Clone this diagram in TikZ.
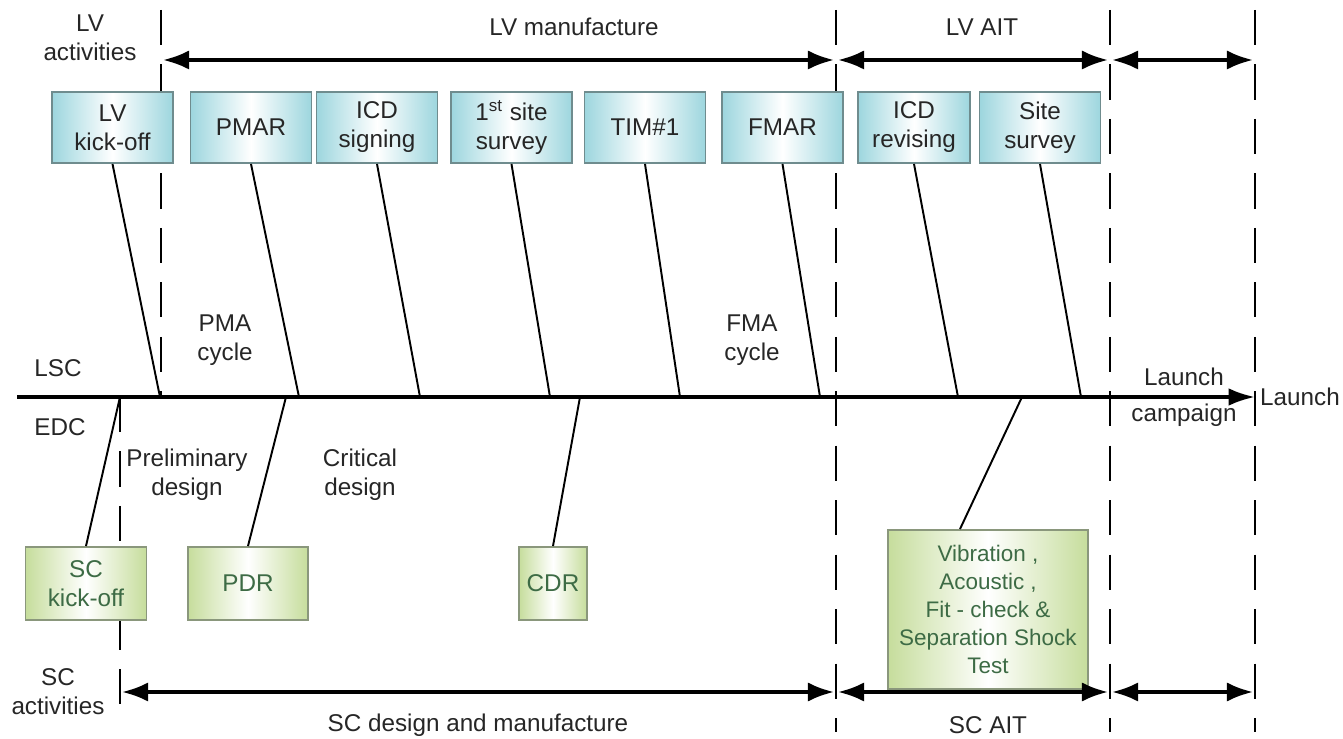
\documentclass[tikz,border=0pt]{standalone}
\usepackage{fontspec}
\setmainfont{Liberation Sans}
\usetikzlibrary{arrows.meta}
\definecolor{lvcyan}{HTML}{9DD6DE}
\definecolor{lvedge}{HTML}{6F8C8E}
\definecolor{scgreen}{HTML}{C6DD9C}
\definecolor{scedge}{HTML}{8A977C}
\definecolor{sctext}{HTML}{3D6B45}

\begin{document}
\begin{tikzpicture}[x=0.02cm,y=-0.02cm,
      font=\fontsize{13.8}{16.5}\selectfont, text=black!85,
      lvbox/.style={draw=lvedge, line width=1.1pt, left color=lvcyan, right color=lvcyan,
        middle color=white, minimum width=2.42cm, minimum height=1.42cm, align=center},
      scbox/.style={draw=scedge, line width=1.1pt, left color=scgreen, right color=scgreen,
        middle color=white, minimum width=2.42cm, minimum height=1.46cm, align=center, text=sctext},
      phase/.style={line width=2.3pt, {Latex[length=15pt,width=11pt]}-{Latex[length=15pt,width=11pt]},
        shorten <=1pt, shorten >=1pt},
      border/.style={line width=1.4pt, dash pattern=on 20pt off 11pt},
      tie/.style={line width=1.1pt}]
      \useasboundingbox (0,0) rectangle (1343,739);

      % phase borders
      \draw[border] (161,10) -- (161,397);
      \draw[border] (120,397) -- (120,722);
      \foreach \xb in {836,1110,1255}
        \draw[border] (\xb,10) -- (\xb,732);

      % time axis
      \coordinate (start) at (17,397);
      \coordinate (end) at (1255,397);
      \draw[line width=2pt, -{Latex[length=15pt,width=10pt]}] (start) -- (end);

      % LV side
      \foreach \n/\x/\t in {b1/112.5/{LV\\kick-off}, b2/251/PMAR, b3/377/{ICD\\signing},
          b4/511.5/{1\textsuperscript{st} site\\survey}, b5/645/TIM\#1, b6/782.5/FMAR,
          b8/1040/{Site\\survey}}
        \node[lvbox] (\n) at (\x,127.5) {\t};
      \node[lvbox, minimum width=2.24cm] (b7) at (914,127.5) {ICD\\revising};

      \foreach \n/\x in {a1/160, a2/299, a3/420, a4/550, a5/680, a6/820, a7/958, a8/1081}
        \coordinate (\n) at (\x,397);
      \foreach \i in {1,...,8}
        \draw[tie] (b\i.south) -- (a\i);

      % SC side
      \node[scbox] (s1) at (86,583.5) {SC\\kick-off};
      \node[scbox, minimum width=2.4cm] (s2) at (248,583.5) {PDR};
      \node[scbox, minimum width=1.36cm] (s3) at (553,583.5) {CDR};
      \node[scbox, minimum width=4cm, minimum height=3.18cm, inner sep=0pt,
        font=\fontsize{12.8}{16}\selectfont] (s4) at (988,609.5)
        {Vibration ,\\Acoustic ,\\Fit - check \&\\Separation Shock\\Test};

      \foreach \n/\x in {e1/120, e2/286, e3/580, e4/1022}
        \coordinate (\n) at (\x,397);
      \draw[tie] (s1.north) -- (e1);
      \draw[tie] (s2.north) -- (e2);
      \draw[tie] (s3.north) -- (e3);
      \draw[tie] ([xshift=-0.56cm]s4.north) -- (e4);

      % phases
      \foreach \xa/\xb in {161/836, 836/1110, 1110/1255}
        \draw[phase] (\xa,60) -- (\xb,60);
      \foreach \xa/\xb in {120/836, 836/1110, 1110/1255}
        \draw[phase] (\xa,692) -- (\xb,692);

      % labels
      \node[align=center] (lvact) at (90,38) {LV\\activities};
      \node (lvman) at (574,27) {LV manufacture};
      \node (lvait) at (982,27) {LV AIT};
      \node[align=center] (pma) at (225,340) {PMA\\cycle};
      \node[align=center] (fma) at (752,340) {FMA\\cycle};
      \node (lsc) at (58,368) {LSC};
      \node (edc) at (60,427) {EDC};
      \node[align=center] (prelim) at (187,475) {Preliminary\\design};
      \node[align=center] (crit) at (360,475) {Critical\\design};
      \node[align=center] (camp) at (1184,397) {Launch\\[4pt]campaign};
      \node (launch) at (1300,397) {Launch};
      \node[align=center] (scact) at (58,692) {SC\\activities};
      \node (scdm) at (478,725) {SC design and manufacture};
      \node (scait) at (988,725) {SC AIT};
    \end{tikzpicture}
\end{document}
